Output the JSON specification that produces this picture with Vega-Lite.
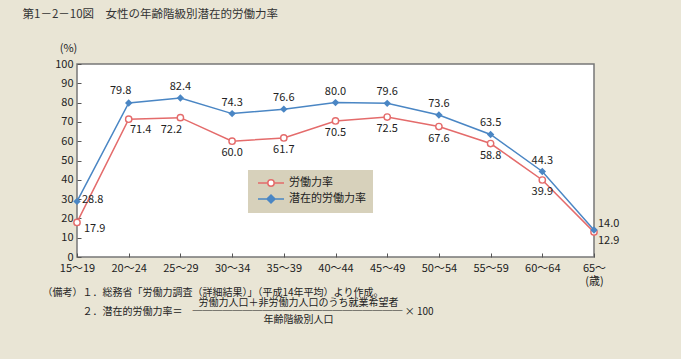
{
  "$schema": "https://vega.github.io/schema/vega-lite/v6.json",
  "width": 517,
  "height": 193,
  "autosize": {"type": "none"},
  "padding": {"left": 77, "top": 64, "right": 87, "bottom": 102},
  "background": "#e9e5d5",
  "config": {
    "font": "Noto Sans CJK JP",
    "view": {"fill": "white", "stroke": "#777777", "strokeWidth": 1.5},
    "axis": {"grid": false, "labelFont": "Noto Sans CJK JP", "labelFontSize": 11, "labelColor": "#222222", "titleFont": "Noto Sans CJK JP", "titleFontWeight": "normal", "titleColor": "#222222"},
    "text": {"font": "Noto Sans CJK JP", "fontSize": 11, "color": "#222222", "baseline": "middle"}
  },
  "datasets": {
    "rates": [
      {"age": "15～19", "series": "労働力率", "value": 17.9},
      {"age": "20～24", "series": "労働力率", "value": 71.4},
      {"age": "25～29", "series": "労働力率", "value": 72.2},
      {"age": "30～34", "series": "労働力率", "value": 60.0},
      {"age": "35～39", "series": "労働力率", "value": 61.7},
      {"age": "40～44", "series": "労働力率", "value": 70.5},
      {"age": "45～49", "series": "労働力率", "value": 72.5},
      {"age": "50～54", "series": "労働力率", "value": 67.6},
      {"age": "55～59", "series": "労働力率", "value": 58.8},
      {"age": "60～64", "series": "労働力率", "value": 39.9},
      {"age": "65～", "series": "労働力率", "value": 12.9},
      {"age": "15～19", "series": "潜在的労働力率", "value": 28.8},
      {"age": "20～24", "series": "潜在的労働力率", "value": 79.8},
      {"age": "25～29", "series": "潜在的労働力率", "value": 82.4},
      {"age": "30～34", "series": "潜在的労働力率", "value": 74.3},
      {"age": "35～39", "series": "潜在的労働力率", "value": 76.6},
      {"age": "40～44", "series": "潜在的労働力率", "value": 80.0},
      {"age": "45～49", "series": "潜在的労働力率", "value": 79.6},
      {"age": "50～54", "series": "潜在的労働力率", "value": 73.6},
      {"age": "55～59", "series": "潜在的労働力率", "value": 63.5},
      {"age": "60～64", "series": "潜在的労働力率", "value": 44.3},
      {"age": "65～", "series": "潜在的労働力率", "value": 14.0}
    ]
  },
  "data": {"name": "rates"},
  "layer": [
    {
      "transform": [{"filter": "datum.series === '労働力率'"}],
      "encoding": {
        "x": {
          "field": "age", "type": "ordinal", "sort": null,
          "scale": {"type": "point", "padding": 0, "domain": ["15～19","20～24","25～29","30～34","35～39","40～44","45～49","50～54","55～59","60～64","65～"]},
          "axis": {
            "orient": "bottom", "domain": false, "ticks": true, "tickSize": -4, "tickColor": "#555555", "labelPadding": 9, "labelAngle": 0,
            "labelLineHeight": 13,
            "labelExpr": "datum.value === '65～' ? ['65～', '\u00a0\u00a0\u00a0\u00a0(歳)'] : datum.value",
            "title": ["（備考）１．総務省「労働力調査（詳細結果）」（平成14年平均）より作成。", "\u200b　　　　２．潜在的労働力率＝　─────────────────────  × 100"],
            "titleFontSize": 10, "titleLineHeight": 19, "titleAlign": "left", "titleAnchor": "start", "titleAngle": 0,
            "titleBaseline": "top", "titleX": -35, "titleY": 30
          }
        },
        "y": {
          "field": "value", "type": "quantitative",
          "scale": {"domain": [0, 100], "nice": false, "zero": true},
          "axis": {
            "orient": "left", "values": [0,10,20,30,40,50,60,70,80,90,100], "domain": false, "tickSize": -4, "tickColor": "#555555", "labelPadding": 8,
            "title": "(%)", "titleAngle": 0, "titleFontSize": 11, "titleAlign": "center", "titleBaseline": "middle", "titleX": -9, "titleY": -16
          }
        }
      },
      "layer": [
        {
          "mark": {"type": "line", "strokeWidth": 1.5},
          "encoding": {
            "color": {
              "field": "series", "type": "nominal",
              "scale": {"domain": ["労働力率", "潜在的労働力率"], "range": ["#e46b6b", "#4a86c4"]},
              "legend": {
                "orient": "none", "legendX": 171, "legendY": 106, "title": null,
                "fillColor": "#d7d1bb", "padding": 7, "labelFontSize": 11, "labelFont": "Noto Sans CJK JP", "labelColor": "#222222",
                "symbolSize": 100, "symbolOffset": 10, "labelOffset": 12, "rowPadding": 2,
                "symbolType": "M-2.6,0H2.6",
                "encode": {
                  "symbols": {
                    "update": {
                      "shape": {"signal": "datum.value === '労働力率' ? 'M-2.6,0H-0.64M0.64,0H2.6M0.64,0A0.64,0.64,0,1,1,-0.64,0A0.64,0.64,0,1,1,0.64,0' : 'M-2.6,0H2.6M0,-0.8L0.8,0L0,0.8L-0.8,0Z'"},
                      "fill": {"signal": "datum.value === '労働力率' ? 'white' : '#4a86c4'"},
                      "stroke": {"signal": "datum.value === '労働力率' ? '#e46b6b' : '#4a86c4'"},
                      "strokeWidth": {"value": 1.5},
                      "opacity": {"value": 1},
                      "fillOpacity": {"value": 1},
                      "strokeOpacity": {"value": 1}
                    }
                  }
                }
              }
            }
          }
        },
        {
          "mark": {"type": "point", "shape": "circle", "filled": true, "fill": "white", "stroke": "#e46b6b", "strokeWidth": 1.4, "size": 40, "opacity": 1}
        },
        {
          "transform": [{"filter": "datum.age !== '15～19' && datum.age !== '20～24' && datum.age !== '25～29' && datum.age !== '65～'"}],
          "mark": {"type": "text", "dy": 12},
          "encoding": {"text": {"field": "value", "type": "quantitative", "format": ".1f"}}
        },
        {
          "transform": [{"filter": "datum.age === '20～24'"}],
          "mark": {"type": "text", "dx": 12, "dy": 11},
          "encoding": {"text": {"field": "value", "type": "quantitative", "format": ".1f"}}
        },
        {
          "transform": [{"filter": "datum.age === '25～29'"}],
          "mark": {"type": "text", "dx": -9, "dy": 12},
          "encoding": {"text": {"field": "value", "type": "quantitative", "format": ".1f"}}
        },
        {
          "transform": [{"filter": "datum.age === '15～19'"}],
          "mark": {"type": "text", "align": "left", "dx": 7, "dy": 7},
          "encoding": {"text": {"field": "value", "type": "quantitative", "format": ".1f"}}
        },
        {
          "transform": [{"filter": "datum.age === '65～'"}],
          "mark": {"type": "text", "align": "left", "dx": 4, "dy": 9},
          "encoding": {"text": {"field": "value", "type": "quantitative", "format": ".1f"}}
        }
      ]
    },
    {
      "transform": [{"filter": "datum.series === '潜在的労働力率'"}],
      "encoding": {
        "x": {
          "field": "age", "type": "ordinal", "sort": null,
          "scale": {"type": "point", "padding": 0, "domain": ["15～19","20～24","25～29","30～34","35～39","40～44","45～49","50～54","55～59","60～64","65～"]},
          "axis": {
            "orient": "top", "domain": false, "ticks": false, "labels": false,
            "title": "第1－2－10図　女性の年齢階級別潜在的労働力率",
            "titleFontSize": 11.5, "titleColor": "#333333", "titleAlign": "left", "titleAnchor": "start", "titleAngle": 0,
            "titleBaseline": "middle", "titleX": -55, "titleY": -50
          }
        },
        "y": {
          "field": "value", "type": "quantitative",
          "scale": {"domain": [0, 100], "nice": false, "zero": true},
          "axis": {
            "orient": "right", "domain": false, "ticks": false, "labels": false,
            "title": ["労働力人口＋非労働力人口のうち就業希望者", "年齢階級別人口"],
            "titleFontSize": 10, "titleLineHeight": 17, "titleAngle": 0, "titleAlign": "center", "titleBaseline": "top",
            "titleX": -296, "titleY": 233
          }
        }
      },
      "layer": [
        {
          "mark": {"type": "line", "strokeWidth": 1.5},
          "encoding": {"color": {"field": "series", "type": "nominal"}}
        },
        {
          "mark": {"type": "point", "shape": "diamond", "filled": true, "color": "#4a86c4", "size": 55, "opacity": 1}
        },
        {
          "transform": [{"filter": "datum.age !== '15～19' && datum.age !== '20～24' && datum.age !== '65～'"}],
          "mark": {"type": "text", "dy": -11},
          "encoding": {"text": {"field": "value", "type": "quantitative", "format": ".1f"}}
        },
        {
          "transform": [{"filter": "datum.age === '20～24'"}],
          "mark": {"type": "text", "dx": -8, "dy": -12},
          "encoding": {"text": {"field": "value", "type": "quantitative", "format": ".1f"}}
        },
        {
          "transform": [{"filter": "datum.age === '15～19'"}],
          "mark": {"type": "text", "align": "left", "dx": 5, "dy": -1},
          "encoding": {"text": {"field": "value", "type": "quantitative", "format": ".1f"}}
        },
        {
          "transform": [{"filter": "datum.age === '65～'"}],
          "mark": {"type": "text", "align": "left", "dx": 4, "dy": -6},
          "encoding": {"text": {"field": "value", "type": "quantitative", "format": ".1f"}}
        }
      ]
    }
  ],
  "resolve": {"scale": {"x": "independent", "y": "independent"}}
}
